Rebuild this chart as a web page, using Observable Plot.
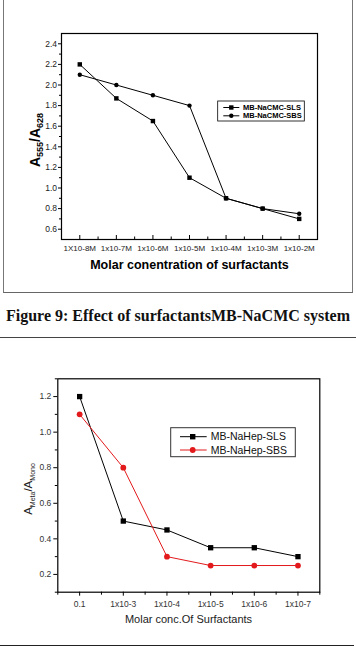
<!DOCTYPE html>
<html>
<head>
<meta charset="utf-8">
<script src="https://cdn.jsdelivr.net/npm/d3@7"></script>
<script src="https://cdn.jsdelivr.net/npm/@observablehq/plot@0.6"></script>
<style>
  html, body { margin: 0; padding: 0; background: #fff; }
  body { position: relative; width: 356px; height: 654px; overflow: hidden; font-family: Arial, "Liberation Sans", sans-serif; }
  .abs { position: absolute; }
  .rule { position: absolute; pointer-events: none; }
</style>
</head>
<body>
<div id="fig1" class="abs" style="left:0;top:0"></div>
<div class="rule" style="left:3px;top:-2px;width:347.5px;height:294px;border-left:1.5px solid #777;border-right:1.5px solid #777;border-bottom:1.5px solid #666;"></div>
<div class="abs" style="left:0;top:306.5px;width:356px;text-align:center;font:bold 16px/18px 'Liberation Serif','Times New Roman',serif;color:#111;white-space:nowrap;">Figure 9: Effect of surfactantsMB-NaCMC system</div>
<div class="rule" style="left:0;top:337px;width:356px;border-top:1.5px solid #444;"></div>
<div id="fig2" class="abs" style="left:0;top:338px"></div>
<div class="rule" style="left:0;top:645px;width:354px;border-top:1.5px solid #222;"></div>

<script>
// ---- Figure 9: MB-NaCMC system ----
const cmcLabels = ["1X10-8M", "1x10-7M", "1x10-6M", "1x10-5M", "1x10-4M", "1x10-3M", "1x10-2M"];
const cmcSLS = [2.2, 1.87, 1.65, 1.1, 0.9, 0.8, 0.7];
const cmcSBS = [2.1, 2.0, 1.9, 1.8, 0.9, 0.8, 0.75];
const cmcSeries = ["MB-NaCMC-SLS", "MB-NaCMC-SBS"];
const cmcYTicks = [0.6, 0.8, 1.0, 1.2, 1.4, 1.6, 1.8, 2.0, 2.2, 2.4];
const cmcYMinor = [0.7, 0.9, 1.1, 1.3, 1.5, 1.7, 1.9, 2.1, 2.3];

// ---- MB-NaHep system ----
const hepLabels = ["0.1", "1x10-3", "1x10-4", "1x10-5", "1x10-6", "1x10-7"];
const hepSLS = [1.2, 0.5, 0.45, 0.35, 0.35, 0.3];
const hepSBS = [1.1, 0.8, 0.3, 0.25, 0.25, 0.25];
const hepSeries = ["MB-NaHep-SLS", "MB-NaHep-SBS"];
const hepYTicks = [0.2, 0.4, 0.6, 0.8, 1.0, 1.2];
const hepYMinor = [0.1, 0.3, 0.5, 0.7, 0.9, 1.1, 1.3];

const FONT = "Arial, 'Liberation Sans', sans-serif";
const RED = "#e31a1c";

function rowsOf(series, values) {
  return series.flatMap((s, k) => values[k].map((v, i) => ({series: s, i, v})));
}

// ---------- top chart ----------
{
  const W = 356, H = 290, mL = 61, mR = 39, mT = 33, mB = 51;
  const frameH = H - mT - mB;
  const idx = cmcLabels.map((_, i) => i);
  const half = idx.slice(0, -1).map(i => i + 0.5);
  const rows = rowsOf(cmcSeries, [cmcSLS, cmcSBS]);

  const chart = Plot.plot({
    width: W, height: H,
    marginLeft: mL, marginRight: mR, marginTop: mT, marginBottom: mB,
    style: {fontFamily: FONT, background: "transparent", color: "#000"},
    x: {type: "linear", domain: [-0.5, cmcLabels.length - 0.5], label: null},
    y: {domain: [0.5, 2.5], label: null},
    marks: [
      Plot.axisY({ticks: cmcYTicks, tickSize: 3, tickPadding: 1.5, tickFormat: d3.format(".1f"), fontSize: 8.5, fill: "#222", label: null}),
      Plot.axisY({ticks: cmcYMinor, tickSize: 2, tickFormat: () => "", label: null}),
      Plot.axisX({ticks: idx, tickSize: 0, tickPadding: 6, tickFormat: i => cmcLabels[i], fontSize: 8, fill: "#222", label: null}),
      Plot.tickX(idx, {x: d => d, insetTop: frameH - 4, stroke: "#000"}),
      Plot.tickX(half, {x: d => d, insetTop: frameH - 2.5, stroke: "#000"}),
      Plot.line(rows, {x: "i", y: "v", z: "series", stroke: "#000", strokeWidth: 1}),
      Plot.dot(rows.filter(d => d.series === cmcSeries[0]), {x: "i", y: "v", symbol: "square", r: 2.5, fill: "#000"}),
      Plot.dot(rows.filter(d => d.series === cmcSeries[1]), {x: "i", y: "v", symbol: "circle", r: 2.2, fill: "#000"}),
      Plot.frame({stroke: "#000", strokeWidth: 1.2})
    ]
  });

  const svg = d3.select(chart);
  // y-axis title with subscripts
  const yt = svg.append("text")
    .attr("transform", "translate(39.5,140) rotate(-90)")
    .attr("text-anchor", "middle")
    .attr("font-family", FONT).attr("font-weight", "bold").attr("font-size", 14).attr("fill", "#000");
  yt.append("tspan").text("A");
  yt.append("tspan").attr("font-size", 9).attr("dy", 3.5).text("555");
  yt.append("tspan").attr("dy", -3.5).text("/A");
  yt.append("tspan").attr("font-size", 9).attr("dy", 3.5).text("628");

  // x-axis title
  svg.append("text").attr("x", 189.5).attr("y", 268.5).attr("text-anchor", "middle")
    .attr("font-family", FONT).attr("font-weight", "bold").attr("font-size", 12.5).attr("fill", "#000")
    .text("Molar conentration of surfactants");

  // legend
  const lg = svg.append("g").attr("text-anchor", "start");
  lg.append("rect").attr("x", 217.7).attr("y", 101).attr("width", 86.6).attr("height", 20)
    .attr("fill", "#fff").attr("stroke", "#000").attr("stroke-width", 0.8);
  cmcSeries.forEach((s, k) => {
    const y = 107.5 + k * 8.3;
    lg.append("line").attr("x1", 223.3).attr("x2", 239.3).attr("y1", y).attr("y2", y).attr("stroke", "#000");
    if (k === 0) lg.append("rect").attr("x", 231.3 - 2.2).attr("y", y - 2.2).attr("width", 4.4).attr("height", 4.4).attr("fill", "#000");
    else lg.append("circle").attr("cx", 231.3).attr("cy", y).attr("r", 2.2).attr("fill", "#000");
    lg.append("text").attr("x", 243).attr("y", y).attr("dy", "0.35em").attr("text-anchor", "start")
      .attr("font-family", FONT).attr("font-weight", "bold").attr("font-size", 7.5).attr("fill", "#000").text(s);
  });

  document.getElementById("fig1").appendChild(chart);
}

// ---------- bottom chart ----------
{
  const W = 356, H = 307, mL = 57.3, mR = 36.7, mT = 40.3, mB = 53.3;
  const idx = hepLabels.map((_, i) => i);
  const half = [-0.5, ...idx.map(i => i + 0.5)];
  const rows = rowsOf(hepSeries, [hepSLS, hepSBS]);
  const color = Plot.scale({color: {domain: hepSeries, range: ["#000", RED]}});

  const chart = Plot.plot({
    width: W, height: H,
    marginLeft: mL, marginRight: mR, marginTop: mT, marginBottom: mB,
    style: {fontFamily: FONT, background: "transparent", color: "#000"},
    x: {type: "linear", domain: [-0.5, hepLabels.length - 0.5], label: null},
    y: {domain: [0.1, 1.3], label: null},
    color: {domain: hepSeries, range: ["#000", RED]},
    marks: [
      Plot.axisY({ticks: hepYTicks, tickSize: 4, tickPadding: 2.5, tickFormat: d3.format(".1f"), fontSize: 8.5, fill: "#333", label: null}),
      Plot.axisY({ticks: hepYMinor, tickSize: 2.5, tickFormat: () => "", label: null}),
      Plot.axisX({ticks: idx, tickSize: 4, tickPadding: 4.5, tickFormat: i => hepLabels[i], fontSize: 8.5, fill: "#333", label: null}),
      Plot.axisX({ticks: half, tickSize: 3, tickFormat: () => "", label: null}),
      Plot.line(rows, {x: "i", y: "v", z: "series", stroke: "series", strokeWidth: 1}),
      Plot.dot(rows.filter(d => d.series === hepSeries[0]), {x: "i", y: "v", symbol: "square", r: 3, fill: "series"}),
      Plot.dot(rows.filter(d => d.series === hepSeries[1]), {x: "i", y: "v", symbol: "circle", r: 2.9, fill: "series"}),
      Plot.frame({stroke: "#000", strokeWidth: 1.2})
    ]
  });

  const svg = d3.select(chart);
  const yt = svg.append("text")
    .attr("transform", "translate(31.5,151) rotate(-90)")
    .attr("text-anchor", "middle")
    .attr("font-family", FONT).attr("font-size", 11.5).attr("fill", "#222");
  yt.append("tspan").text("A");
  yt.append("tspan").attr("font-size", 7).attr("dy", 3).text("Meta");
  yt.append("tspan").attr("dy", -3).text("/A");
  yt.append("tspan").attr("font-size", 7).attr("dy", 3).text("Mono");

  svg.append("text").attr("x", 188.5).attr("y", 284.7).attr("text-anchor", "middle")
    .attr("font-family", FONT).attr("font-size", 11).attr("fill", "#222")
    .text("Molar conc.Of Surfactants");

  const lg = svg.append("g").attr("text-anchor", "start");
  lg.append("rect").attr("x", 170.7).attr("y", 89.7).attr("width", 124.6).attr("height", 29)
    .attr("fill", "#fff").attr("stroke", "#333").attr("stroke-width", 1);
  hepSeries.forEach((s, k) => {
    const y = 98.7 + k * 13.3;
    const c = color.apply(s);
    lg.append("line").attr("x1", 180).attr("x2", 206.7).attr("y1", y).attr("y2", y).attr("stroke", c);
    if (k === 0) lg.append("rect").attr("x", 192.7 - 2.7).attr("y", y - 2.7).attr("width", 5.4).attr("height", 5.4).attr("fill", c);
    else lg.append("circle").attr("cx", 192.7).attr("cy", y).attr("r", 2.9).attr("fill", c);
    lg.append("text").attr("x", 210.7).attr("y", y).attr("dy", "0.35em").attr("text-anchor", "start")
      .attr("font-family", FONT).attr("font-size", 10.5).attr("fill", "#111").text(s);
  });

  document.getElementById("fig2").appendChild(chart);
}
</script>
</body>
</html>
